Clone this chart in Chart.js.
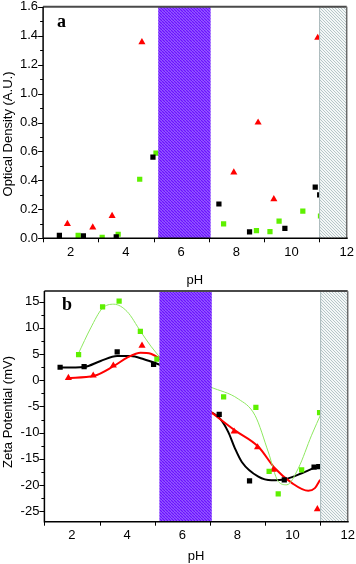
<!DOCTYPE html>
<html><head><meta charset="utf-8">
<script src="https://cdn.jsdelivr.net/npm/chart.js@4.4.1/dist/chart.umd.min.js"></script>
<style>
html,body{margin:0;padding:0;background:#fff;width:356px;height:564px;overflow:hidden}
.p{position:absolute;left:0;width:356px}
canvas{display:block}
</style></head><body>
<div class="p" style="top:0;height:287px"><canvas id="ca" width="356" height="287"></canvas></div>
<div class="p" style="top:287px;height:277px"><canvas id="cb" width="356" height="277"></canvas></div>
<script>
// ---- tick labels ----
const xTicks = [2, 4, 6, 8, 10, 12];
const odTicks = [0.0, 0.2, 0.4, 0.6, 0.8, 1.0, 1.2, 1.4, 1.6];
const zetaTicks = [-25, -20, -15, -10, -5, 0, 5, 10, 15];

// ---- shaded pH regions ----
const purpleBand = [5.17, 7.07];
const grayBand = [11.0, 12.0];

// ---- panel a: optical density ----
const odBlack = [[1.59,0.02],[2.46,0.016],[3.65,0.01],[4.98,0.56],[7.37,0.237],[8.48,0.044],[9.76,0.069],[10.86,0.353],[11.02,0.30]];
const odGreen = [[2.27,0.02],[3.14,0.007],[3.72,0.028],[4.5,0.408],[5.09,0.588],[7.54,0.10],[8.73,0.053],[9.22,0.046],[9.55,0.118],[10.41,0.187],[11.05,0.154]];
const odRed = [[1.88,0.10],[2.8,0.075],[3.5,0.155],[4.58,1.355],[7.91,0.455],[8.79,0.80],[9.36,0.27],[10.95,1.385]];

// ---- panel b: zeta potential ----
const zBlack = [[1.57,2.47],[2.44,2.6],[3.64,5.4],[4.96,3.0],[7.34,-6.5],[8.44,-19.2],[9.7,-19.0],[10.78,-16.6],[10.95,-16.5]];
const zGreen = [[2.24,4.9],[3.11,14.0],[3.71,15.1],[4.48,9.3],[5.08,4.0],[7.5,-3.2],[8.67,-5.2],[9.15,-17.4],[9.48,-21.7],[10.33,-17.1],[10.98,-6.2]];
const zRed = [[1.87,0.45],[2.77,0.9],[3.5,2.8],[4.54,6.6],[7.88,-9.8],[8.73,-12.8],[9.3,-17.1],[10.9,-24.6]];

// fitted curves
const fitBlackL = [[1.53,2.4],[2.44,2.53],[3.04,3.67],[3.64,4.6],[4.13,4.6],[4.61,3.99],[5.22,2.9]];
const fitRedL = [[1.83,0.4],[2.8,0.83],[3.52,2.72],[4.0,4.3],[4.49,5.24],[4.86,5.05],[5.22,4.0]];
const fitGreenL = [[2.23,5.05],[2.68,9.97],[3.1,13.7],[3.52,14.5],[4.0,13.1],[4.49,9.3],[4.86,6.5],[5.2,4.3]];
const fitBlackR = [[7.02,-6.0],[7.37,-7.35],[7.67,-9.9],[7.91,-13.0],[8.16,-15.6],[8.76,-18.4],[9.24,-19.1],[9.72,-18.9],[10.33,-17.75],[11.0,-16.2]];
const fitRedR = [[7.02,-6.0],[7.91,-9.57],[8.76,-12.7],[9.36,-16.8],[9.97,-19.6],[10.57,-21.1],[10.81,-20.6],[11.0,-19.0]];
const fitGreenR = [[7.02,-1.3],[8.03,-3.57],[8.64,-6.73],[9.12,-13.7],[9.48,-19.3],[9.79,-19.96],[10.21,-16.8],[10.69,-10.5],[11.06,-6.1]];

const FONT = "'Liberation Sans', Arial, Helvetica, sans-serif";
const pts = a => a.map(p => ({x: p[0], y: p[1]}));

function hatch(bg, fg, s, lw) {
  const c = document.createElement('canvas'); c.width = s; c.height = s;
  const g = c.getContext('2d');
  g.fillStyle = bg; g.fillRect(0, 0, s, s);
  g.strokeStyle = fg; g.lineWidth = lw; g.beginPath();
  for (let k = -1; k <= 1; k++) { g.moveTo(k * s, 0); g.lineTo(k * s + s, s); }
  g.stroke();
  return g.createPattern(c, 'repeat');
}
const purplePat = hatch('#a070ff', '#6a10ff', 3, 1.3);
const grayPat = hatch('#f4f7f7', '#b6c6c8', 3, 1);

function marker(data, kind) {
  const base = {data: pts(data), showLine: false, borderWidth: 0, order: 0};
  if (kind === 'black') return Object.assign(base, {pointStyle: 'rect', pointRadius: 3.7, backgroundColor: '#000', borderColor: '#000'});
  if (kind === 'green') return Object.assign(base, {pointStyle: 'rect', pointRadius: 3.7, backgroundColor: '#5ef000', borderColor: '#5ef000'});
  return Object.assign(base, {pointStyle: 'triangle', pointRadius: 4.1, backgroundColor: '#ff0000', borderColor: '#ff0000'});
}
function curve(data, color, w) {
  return {data: pts(data), showLine: true, pointRadius: 0, borderColor: color, borderWidth: w,
    cubicInterpolationMode: 'monotone', fill: false, order: 1};
}

function deco(o) {
  return {
    id: 'deco',
    afterDatasetsDraw(chart) {
      const {ctx, chartArea: a, scales: {x}} = chart;
      ctx.save();
      let x1 = x.getPixelForValue(purpleBand[0]), x2 = x.getPixelForValue(purpleBand[1]);
      ctx.fillStyle = purplePat; ctx.fillRect(x1, a.top, x2 - x1, a.bottom - a.top);
      x1 = x.getPixelForValue(grayBand[0]); x2 = x.getPixelForValue(grayBand[1]);
      ctx.fillStyle = grayPat; ctx.fillRect(x1, a.top, x2 - x1, a.bottom - a.top);
      ctx.strokeStyle = '#a9b9bb'; ctx.lineWidth = 1;
      ctx.beginPath(); ctx.moveTo(x1 + 0.5, a.top); ctx.lineTo(x1 + 0.5, a.bottom); ctx.stroke();
      ctx.restore();
    },
    afterDraw(chart) {
      const {ctx, chartArea: a, scales: {x, y}} = chart;
      ctx.save();
      ctx.strokeStyle = '#000'; ctx.lineWidth = 1;
      ctx.beginPath();
      for (let v = 1; v <= 12; v++) {
        if (xTicks.includes(v)) continue;
        const px = Math.round(x.getPixelForValue(v)) + 0.5;
        ctx.moveTo(px, a.bottom); ctx.lineTo(px, a.bottom + 4);
      }
      const t = o.yticks;
      for (let i = 0; i < t.length; i++) {
        const py = Math.round(y.getPixelForValue(t[i])) + 0.5;
        ctx.moveTo(a.left, py); ctx.lineTo(a.left - 5, py);
        if (i < t.length - 1) {
          const pm = Math.round(y.getPixelForValue((t[i] + t[i + 1]) / 2)) + 0.5;
          ctx.moveTo(a.left, pm); ctx.lineTo(a.left - 3, pm);
        }
      }
      ctx.stroke();
      ctx.strokeStyle = '#4a4a4a'; ctx.lineWidth = 2;
      ctx.beginPath(); ctx.moveTo(a.left, a.top); ctx.lineTo(a.right, a.top); ctx.stroke();
      ctx.strokeStyle = '#6a6a6a'; ctx.lineWidth = 1.5;
      ctx.beginPath(); ctx.moveTo(a.right, a.top); ctx.lineTo(a.right, a.bottom); ctx.stroke();
      ctx.strokeStyle = '#000'; ctx.lineWidth = 1.5;
      ctx.beginPath(); ctx.moveTo(a.left, a.top); ctx.lineTo(a.left, a.bottom); ctx.lineTo(a.right + 1, a.bottom); ctx.stroke();
      ctx.fillStyle = '#000';
      ctx.font = '13px ' + FONT; ctx.textAlign = 'center'; ctx.textBaseline = 'alphabetic';
      ctx.fillText('pH', (a.left + a.right) / 2, o.phBase);
      ctx.save(); ctx.translate(8, o.yTitleY); ctx.rotate(-Math.PI / 2);
      ctx.textBaseline = 'middle'; ctx.fillText(o.yTitle, 0, 0); ctx.restore();
      ctx.font = "bold 18px 'Liberation Serif', 'Times New Roman', serif"; ctx.textAlign = 'left';
      ctx.fillText(o.letter, o.letterX, o.letterY);
      ctx.restore();
    }
  };
}

function build(id, o) {
  const cv = document.getElementById(id);
  const W = cv.width, H = cv.height;
  const tickFont = {family: FONT, size: 13};
  const noOverhang = s => { s.paddingTop = 0; s.paddingBottom = 0; s.paddingLeft = 0; s.paddingRight = 0; };
  const pad = {left: o.area.left - o.yw, top: o.area.top, right: W - o.area.right, bottom: H - o.area.bottom - o.xh};
  const chart = new Chart(cv, {
    type: 'scatter',
    data: {datasets: o.datasets},
    options: {
      responsive: false, animation: false, devicePixelRatio: 1,
      layout: {padding: pad},
      plugins: {legend: {display: false}, tooltip: {enabled: false}},
      scales: {
        x: {type: 'linear', min: 1, max: 12,
          afterBuildTicks: s => { s.ticks = xTicks.map(v => ({value: v})); },
          afterFit: s => { s.height = o.xh; noOverhang(s); },
          ticks: {font: tickFont, color: '#000', padding: 6, maxRotation: 0, autoSkip: false},
          grid: {drawOnChartArea: false, drawTicks: false}, border: {display: false}},
        y: {type: 'linear', min: o.ymin, max: o.ymax,
          afterBuildTicks: s => { s.ticks = o.yticks.map(v => ({value: v})); },
          afterFit: s => { s.width = o.yw; noOverhang(s); },
          ticks: {font: tickFont, color: '#000', padding: 5, autoSkip: false, callback: o.fmt},
          grid: {drawOnChartArea: false, drawTicks: false}, border: {display: false}}
      }
    },
    plugins: [deco(o)]
  });
  return chart;
}

build('ca', {
  area: {left: 43.1, top: 6.7, right: 346.7, bottom: 238.3}, yw: 43.1, xh: 40,
  ymin: 0, ymax: 1.6, yticks: odTicks, fmt: v => Number(v).toFixed(1),
  yTitle: 'Optical Density (A.U.)', yTitleY: 134, phBase: 284,
  letter: 'a', letterX: 57, letterY: 27,
  datasets: [marker(odBlack, 'black'), marker(odGreen, 'green'), marker(odRed, 'red')]
});

build('cb', {
  area: {left: 44.4, top: 2.3, right: 347.7, bottom: 234.7}, yw: 44.4, xh: 38,
  ymin: -27, ymax: 17, yticks: zetaTicks, fmt: v => String(v),
  yTitle: 'Zeta Potential (mV)', yTitleY: 125, phBase: 273,
  letter: 'b', letterX: 62, letterY: 23,
  datasets: [
    marker(zBlack, 'black'), marker(zGreen, 'green'), marker(zRed, 'red'),
    curve(fitGreenL, '#8ee860', 1), curve(fitGreenR, '#8ee860', 1),
    curve(fitRedL, '#ff0000', 2), curve(fitRedR, '#ff0000', 2),
    curve(fitBlackL, '#000', 2), curve(fitBlackR, '#000', 2)
  ]
});
</script>
</body></html>
